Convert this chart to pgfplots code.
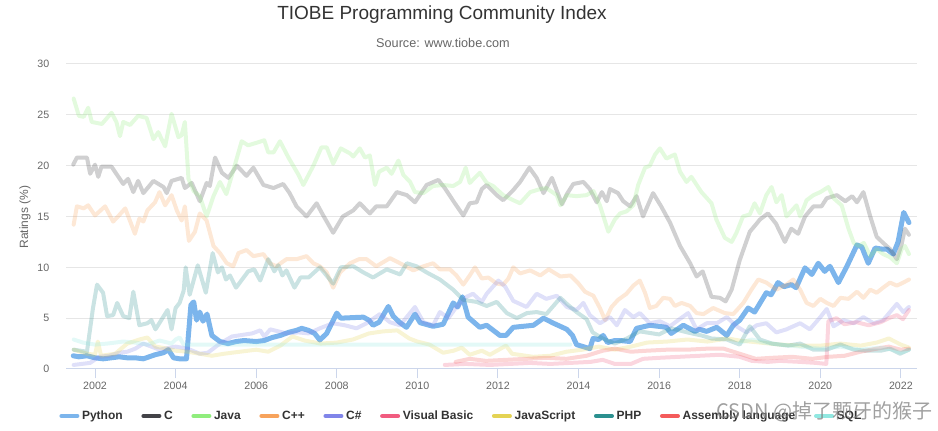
\documentclass[border=0pt]{standalone}
\usepackage{fontspec}
\setmainfont{Liberation Sans}
\newfontfamily\cjk{Noto Sans CJK SC}
\usepackage{pgfplots}
\pgfplotsset{compat=1.18}
\definecolor{cpy}{HTML}{7CB5EC}
\definecolor{cc}{HTML}{434348}
\definecolor{cjava}{HTML}{90ED7D}
\definecolor{ccpp}{HTML}{F7A35C}
\definecolor{ccs}{HTML}{8085E9}
\definecolor{cvb}{HTML}{F15C80}
\definecolor{cjs}{HTML}{E4D354}
\definecolor{cphp}{HTML}{2B908F}
\definecolor{casm}{HTML}{F45B5B}
\definecolor{csql}{HTML}{91E8E1}
\definecolor{gridc}{HTML}{E6E6E6}
\definecolor{axisc}{HTML}{CCD6EB}
\definecolor{t333}{HTML}{333333}
\definecolor{t666}{HTML}{666666}
\begin{document}
\begin{tikzpicture}
\path[use as bounding box] (0pt,0pt) rectangle (703.5pt,323.25pt);
\node[text=t333, font=\fontsize{14.25}{16}\selectfont] at (331.5pt,312pt) {TIOBE Programming Community Index};
\node[text=t666, font=\fontsize{9.5}{11}\selectfont] at (332.25pt,291pt) {Source: www.tiobe.com};
\node[text=t666, rotate=90, font=\fontsize{9}{11}\selectfont] at (18.75pt,160.5pt) {Ratings (\%)};
\begin{axis}[
  at={(49.5pt,46.5pt)}, anchor=south west, scale only axis,
  width=638.25pt, height=228.75pt,
  xmin=2001.28, xmax=2022.4, ymin=0, ymax=30,
  axis x line*=bottom, axis y line*=left,
  y axis line style={draw=none},
  x axis line style={draw=axisc, line width=0.75pt, -},
  xtick={2002,2004,...,2022}, ytick={0,5,...,30},
  /pgf/number format/1000 sep={},
  /pgf/number format/assume math mode=true,
  ymajorgrids, grid style={draw=gridc, line width=0.75pt},
  xtick style={draw=axisc, line width=0.75pt},
  ytick style={draw=none},
  xtick align=outside, ytick align=inside,
  major tick length=7pt,
  ticklabel style={text=t666, font=\fontsize{8}{10}\selectfont},
  yticklabel style={xshift=-9pt},
  xticklabel style={yshift=1pt},
  every axis plot/.append style={no marks, line join=round, line cap=round},
  faded/.style={line width=3pt, draw opacity=0.25, forget plot},
  legend image code/.code={\draw[#1, line width=3pt] (0pt,0pt) -- (12pt,0pt);},
  legend columns=-1,
  legend style={at={(0.465,-0.154)}, anchor=center, draw=none, fill=none,
    font=\bfseries\fontsize{9}{11}\selectfont, text=t333,
    /tikz/every even column/.append style={column sep=12pt}},
]
\addlegendimage{cpy}\addlegendentry{Python}
\addlegendimage{cc}\addlegendentry{C}
\addlegendimage{cjava}\addlegendentry{Java}
\addlegendimage{ccpp}\addlegendentry{C++}
\addlegendimage{ccs}\addlegendentry{C\#}
\addlegendimage{cvb}\addlegendentry{Visual Basic}
\addlegendimage{cjs}\addlegendentry{JavaScript}
\addlegendimage{cphp}\addlegendentry{PHP}
\addlegendimage{casm}\addlegendentry{Assembly language}
\addlegendimage{csql}\addlegendentry{SQL}
% Python
\addplot[cpy, line width=3.75pt, forget plot] coordinates {
(2001.46,1.3) (2001.6,1.2) (2001.8,1.3) (2002.0,1.1) (2002.2,1.0) (2002.4,1.1) (2002.6,1.2) (2002.8,1.1) (2003.0,1.1) (2003.2,1.0) (2003.49,1.4) (2003.7,1.6) (2003.82,1.9) (2003.95,1.1) (2004.1,1.0) (2004.27,1.0) (2004.38,6.3) (2004.45,6.6) (2004.52,4.8) (2004.6,5.6) (2004.68,4.7) (2004.78,5.4) (2004.9,3.3) (2005.1,2.7) (2005.3,2.5) (2005.5,2.7) (2005.7,2.8) (2006.0,2.7) (2006.2,2.8) (2006.4,3.1) (2006.6,3.3) (2006.8,3.6) (2007.0,3.8) (2007.13,4.0) (2007.3,3.8) (2007.45,3.5) (2007.58,2.85) (2007.75,3.5) (2008.0,5.5) (2008.1,5.0) (2008.66,5.1) (2008.8,4.8) (2008.9,4.3) (2009.05,4.6) (2009.28,6.15) (2009.4,5.2) (2009.57,4.55) (2009.73,4.1) (2009.94,5.4) (2010.07,4.55) (2010.39,4.2) (2010.64,4.4) (2010.89,6.5) (2011.0,6.1) (2011.12,7.1) (2011.26,5.1) (2011.55,4.1) (2011.72,4.3) (2012.05,3.3) (2012.2,3.3) (2012.38,4.1) (2012.88,4.3) (2013.13,5.0) (2013.38,4.5) (2013.71,3.9) (2013.85,3.3) (2013.95,2.4) (2014.28,2.0) (2014.36,3.0) (2014.5,2.9) (2014.61,3.3) (2014.72,2.6) (2014.9,2.8) (2015.03,2.8) (2015.28,2.7) (2015.44,4.0) (2015.77,4.3) (2015.98,4.2) (2016.18,4.1) (2016.3,3.5) (2016.6,4.3) (2016.89,3.7) (2017.0,3.9) (2017.18,3.7) (2017.43,4.1) (2017.68,3.3) (2017.84,4.3) (2018.0,4.8) (2018.21,6.0) (2018.37,5.6) (2018.66,7.5) (2018.78,7.3) (2018.95,8.5) (2019.1,8.1) (2019.28,8.3) (2019.4,8.0) (2019.62,9.95) (2019.79,9.3) (2019.95,10.4) (2020.11,9.6) (2020.24,10.1) (2020.32,9.5) (2020.45,8.5) (2020.66,10.1) (2020.91,12.2) (2021.03,12.0) (2021.19,10.4) (2021.36,11.9) (2021.52,11.8) (2021.65,11.8) (2021.81,11.3) (2021.93,12.5) (2022.07,15.4) (2022.2,14.4)
};
% C
\addplot[cc, faded] coordinates {
(2001.46,20.1) (2001.55,20.8) (2001.8,20.8) (2001.88,19.2) (2002.0,20.1) (2002.08,18.9) (2002.16,19.9) (2002.41,19.9) (2002.7,18.2) (2002.82,18.7) (2002.95,17.4) (2003.07,18.5) (2003.2,17.3) (2003.45,18.5) (2003.7,17.9) (2003.78,17.3) (2003.9,18.5) (2004.15,18.8) (2004.23,17.8) (2004.4,18.3) (2004.6,16.5) (2004.77,18.3) (2004.85,18.0) (2004.98,20.8) (2005.15,19.3) (2005.31,18.8) (2005.52,20.0) (2005.76,19.0) (2005.93,19.8) (2006.18,18.1) (2006.43,17.8) (2006.67,18.2) (2006.83,17.3) (2007.0,16.0) (2007.25,15.0) (2007.5,16.3) (2007.65,15.2) (2007.91,13.4) (2008.15,15.0) (2008.41,15.6) (2008.57,16.3) (2008.82,15.3) (2008.98,16.0) (2009.24,16.0) (2009.49,17.4) (2009.74,17.1) (2009.94,16.4) (2010.23,18.1) (2010.52,18.6) (2010.68,17.8) (2010.93,16.3) (2011.14,15.1) (2011.3,16.3) (2011.47,16.4) (2011.6,17.7) (2011.72,18.1) (2011.97,17.1) (2012.13,16.6) (2012.38,17.6) (2012.55,18.4) (2012.78,19.8) (2012.96,18.8) (2013.13,17.3) (2013.34,18.8) (2013.59,16.2) (2013.71,17.2) (2013.87,18.2) (2014.12,18.4) (2014.28,17.7) (2014.45,16.4) (2014.58,17.4) (2014.7,16.5) (2014.78,17.7) (2014.98,17.3) (2015.11,16.5) (2015.28,16.0) (2015.44,17.0) (2015.6,15.0) (2015.85,17.3) (2016.05,16.0) (2016.27,14.4) (2016.52,12.1) (2016.77,10.4) (2016.93,9.1) (2017.08,9.6) (2017.3,7.1) (2017.51,7.0) (2017.65,6.65) (2017.8,7.8) (2018.0,10.7) (2018.25,13.5) (2018.42,14.3) (2018.5,14.7) (2018.7,15.3) (2018.9,14.3) (2019.12,12.5) (2019.28,13.8) (2019.45,13.3) (2019.62,15.0) (2019.83,16.0) (2020.03,16.0) (2020.16,16.8) (2020.41,17.1) (2020.62,16.5) (2020.79,17.0) (2020.91,16.4) (2021.07,17.4) (2021.24,15.0) (2021.4,13.0) (2021.56,12.4) (2021.73,11.8) (2021.9,10.8) (2022.02,12.3) (2022.1,13.8) (2022.2,13.2)
};
% Java
\addplot[cjava, faded] coordinates {
(2001.47,26.6) (2001.6,24.9) (2001.72,24.8) (2001.83,25.7) (2001.92,24.3) (2002.17,24.1) (2002.41,25.2) (2002.53,24.3) (2002.62,22.9) (2002.7,24.3) (2002.87,24.0) (2003.07,24.9) (2003.28,24.7) (2003.45,22.6) (2003.57,23.3) (2003.74,21.9) (2003.9,25.1) (2004.07,22.8) (2004.15,23.0) (2004.23,24.3) (2004.32,18.7) (2004.45,17.5) (2004.6,17.0) (2004.77,15.0) (2004.94,17.0) (2005.1,18.4) (2005.26,17.2) (2005.43,19.5) (2005.64,22.4) (2005.8,22.0) (2006.05,22.3) (2006.2,22.5) (2006.3,21.3) (2006.43,21.3) (2006.59,22.4) (2006.8,20.8) (2007.05,19.1) (2007.17,18.1) (2007.42,20.0) (2007.62,21.8) (2007.75,21.8) (2007.91,20.2) (2008.1,21.7) (2008.33,21.2) (2008.41,20.9) (2008.57,21.7) (2008.7,20.8) (2008.82,21.0) (2008.95,18.1) (2009.05,19.4) (2009.24,19.8) (2009.36,19.2) (2009.53,20.5) (2009.65,19.1) (2009.82,18.4) (2009.94,17.4) (2010.15,17.3) (2010.39,18.0) (2010.64,18.1) (2010.89,18.0) (2011.06,18.4) (2011.2,19.8) (2011.3,18.3) (2011.55,19.3) (2011.72,18.3) (2011.88,18.0) (2012.13,17.1) (2012.38,16.6) (2012.55,16.3) (2012.8,17.4) (2013.05,17.7) (2013.2,17.8) (2013.46,17.1) (2013.55,16.1) (2013.71,17.1) (2013.95,17.0) (2014.2,17.1) (2014.37,17.5) (2014.53,16.1) (2014.74,13.5) (2014.9,14.7) (2015.03,15.3) (2015.19,15.5) (2015.36,16.1) (2015.48,18.1) (2015.65,19.8) (2015.77,20.0) (2015.9,21.1) (2016.02,21.7) (2016.18,20.7) (2016.39,21.1) (2016.52,19.4) (2016.68,18.4) (2016.8,18.9) (2017.05,17.4) (2017.3,16.3) (2017.42,14.7) (2017.63,12.9) (2017.8,12.5) (2017.92,13.4) (2018.08,15.0) (2018.25,15.2) (2018.37,16.3) (2018.5,15.3) (2018.66,17.1) (2018.79,17.9) (2018.91,16.4) (2019.04,17.1) (2019.16,15.0) (2019.41,16.1) (2019.5,15.0) (2019.66,16.6) (2019.83,17.1) (2020.0,17.4) (2020.2,17.9) (2020.33,16.8) (2020.53,16.1) (2020.7,13.8) (2020.83,12.4) (2020.95,12.1) (2021.08,12.4) (2021.24,11.1) (2021.4,11.8) (2021.56,11.3) (2021.73,11.0) (2021.9,10.4) (2022.02,11.8) (2022.1,12.1) (2022.2,11.3)
};
% C++
\addplot[ccpp, faded] coordinates {
(2001.47,14.2) (2001.55,16.0) (2001.72,15.8) (2001.83,16.1) (2002.0,15.1) (2002.25,16.0) (2002.45,14.5) (2002.57,15.0) (2002.75,15.8) (2002.99,13.3) (2003.1,14.8) (2003.2,14.5) (2003.3,15.6) (2003.49,16.4) (2003.6,17.4) (2003.74,16.1) (2003.9,17.1) (2004.03,15.6) (2004.15,14.6) (2004.23,16.0) (2004.33,12.6) (2004.48,13.5) (2004.6,15.3) (2004.77,14.6) (2004.94,12.1) (2005.1,11.4) (2005.27,10.4) (2005.43,10.1) (2005.56,11.4) (2005.76,11.7) (2005.93,11.1) (2006.18,11.3) (2006.34,10.4) (2006.5,10.1) (2006.75,10.8) (2007.0,10.8) (2007.25,11.1) (2007.42,10.4) (2007.58,10.1) (2007.75,9.5) (2007.91,8.0) (2008.08,9.5) (2008.33,10.4) (2008.55,10.8) (2008.74,10.8) (2008.98,10.1) (2009.32,10.9) (2009.57,10.4) (2009.9,9.7) (2010.15,10.1) (2010.39,10.4) (2010.56,9.8) (2010.81,9.8) (2010.97,9.2) (2011.14,8.3) (2011.3,9.2) (2011.43,10.0) (2011.6,8.9) (2011.76,9.0) (2011.97,8.4) (2012.13,8.3) (2012.26,8.9) (2012.38,10.0) (2012.55,9.4) (2012.8,9.7) (2013.05,9.2) (2013.26,9.8) (2013.55,9.1) (2013.8,9.2) (2014.0,8.4) (2014.16,7.6) (2014.37,7.2) (2014.53,6.0) (2014.66,4.8) (2014.82,6.1) (2014.98,6.8) (2015.19,7.4) (2015.36,8.2) (2015.52,8.7) (2015.65,7.5) (2015.77,6.0) (2015.93,6.2) (2016.1,7.0) (2016.27,6.9) (2016.39,6.2) (2016.56,6.5) (2016.77,6.2) (2016.93,5.5) (2017.1,5.4) (2017.34,6.0) (2017.63,5.5) (2017.84,5.4) (2018.09,6.5) (2018.29,7.8) (2018.46,8.8) (2018.66,8.5) (2018.91,7.8) (2019.16,8.3) (2019.33,8.8) (2019.5,7.8) (2019.66,6.5) (2019.83,6.2) (2020.0,6.9) (2020.16,6.5) (2020.33,6.2) (2020.5,7.0) (2020.7,6.9) (2020.91,7.6) (2021.07,7.0) (2021.24,7.8) (2021.4,7.5) (2021.56,8.0) (2021.73,8.5) (2021.9,8.2) (2022.06,8.5) (2022.2,8.8)
};
% C#
\addplot[ccs, faded] coordinates {
(2001.47,0.4) (2001.88,0.6) (2002.1,1.2) (2002.35,1.3) (2002.6,1.6) (2002.8,1.7) (2003.0,2.0) (2003.2,2.5) (2003.4,2.2) (2003.6,1.9) (2004.0,2.2) (2004.3,2.0) (2004.6,1.5) (2004.8,1.6) (2005.1,2.5) (2005.4,3.2) (2005.9,3.5) (2006.1,3.8) (2006.2,3.2) (2006.35,3.9) (2006.75,3.5) (2007.05,3.6) (2007.3,3.5) (2007.58,4.0) (2007.9,4.5) (2008.2,4.3) (2008.49,4.0) (2008.74,4.5) (2009.07,5.4) (2009.32,4.6) (2009.57,4.3) (2009.94,6.1) (2010.15,4.6) (2010.39,4.3) (2010.56,5.6) (2010.77,5.0) (2010.97,6.1) (2011.22,7.1) (2011.38,7.4) (2011.6,6.6) (2011.72,7.4) (2012.01,8.7) (2012.18,8.1) (2012.38,6.7) (2012.71,6.1) (2012.96,7.4) (2013.2,6.9) (2013.46,7.2) (2013.71,6.1) (2013.95,5.8) (2014.12,6.5) (2014.28,5.3) (2014.53,4.5) (2014.78,5.1) (2014.95,4.3) (2015.15,5.8) (2015.36,5.1) (2015.52,5.5) (2015.77,4.5) (2016.02,4.7) (2016.27,4.2) (2016.47,4.8) (2016.72,5.5) (2016.93,3.9) (2017.18,4.5) (2017.43,4.5) (2017.68,5.1) (2017.92,4.2) (2018.17,3.6) (2018.42,4.3) (2018.66,4.5) (2018.91,3.6) (2019.16,3.9) (2019.5,4.5) (2019.74,3.9) (2020.0,5.1) (2020.16,5.9) (2020.33,4.2) (2020.58,4.8) (2020.83,4.5) (2021.07,5.1) (2021.32,4.5) (2021.56,4.8) (2021.73,5.6) (2021.9,6.4) (2022.06,5.6) (2022.2,6.1)
};
% Visual Basic
\addplot[cvb, faded] coordinates {
(2010.68,0.4) (2011.2,0.5) (2011.8,0.4) (2012.3,0.5) (2012.8,0.6) (2013.3,0.5) (2013.8,0.6) (2014.3,0.7) (2014.6,0.9) (2014.9,0.5) (2015.3,0.5) (2015.6,1.0) (2016.0,1.1) (2016.5,1.2) (2017.0,1.3) (2017.5,1.4) (2018.0,1.2) (2018.3,0.8) (2018.7,0.7) (2019.0,0.8) (2019.5,0.7) (2019.9,0.6) (2020.15,0.5) (2020.2,4.7) (2020.4,5.0) (2020.6,4.4) (2020.9,4.6) (2021.2,4.3) (2021.5,4.6) (2021.7,5.0) (2021.9,5.3) (2022.05,4.9) (2022.2,5.8)
};
% JavaScript
\addplot[cjs, faded] coordinates {
(2001.47,1.9) (2001.8,1.5) (2002.0,1.4) (2002.07,2.7) (2002.15,1.3) (2002.5,1.5) (2002.8,2.5) (2003.1,2.9) (2003.3,3.1) (2003.5,2.2) (2003.8,2.0) (2004.0,1.8) (2004.3,1.7) (2004.6,1.5) (2004.9,1.3) (2005.2,1.5) (2005.6,1.7) (2006.0,1.9) (2006.3,1.7) (2006.6,2.3) (2006.9,3.2) (2007.2,2.8) (2007.6,2.5) (2008.0,2.6) (2008.4,2.9) (2008.8,3.5) (2009.15,3.7) (2009.5,3.8) (2009.8,3.0) (2010.0,2.7) (2010.3,2.4) (2010.64,1.6) (2010.9,1.8) (2011.1,2.1) (2011.3,1.4) (2011.6,1.8) (2011.8,1.4) (2012.2,2.3) (2012.35,1.5) (2012.87,1.2) (2013.3,1.3) (2013.7,1.7) (2014.1,1.9) (2014.5,2.2) (2014.9,1.9) (2015.3,2.2) (2015.7,2.6) (2016.2,2.7) (2016.7,2.9) (2017.2,2.7) (2017.7,3.0) (2018.0,2.8) (2018.5,2.6) (2019.0,2.4) (2019.5,2.3) (2020.0,2.3) (2020.5,2.5) (2021.0,2.3) (2021.4,2.6) (2021.7,3.0) (2022.0,2.4) (2022.2,2.1)
};
% PHP
\addplot[cphp, faded] coordinates {
(2001.47,1.9) (2001.8,1.7) (2001.95,6.0) (2002.05,8.3) (2002.2,7.5) (2002.3,5.2) (2002.45,5.3) (2002.55,6.5) (2002.7,5.2) (2002.85,5.0) (2002.95,7.6) (2003.1,4.3) (2003.3,4.5) (2003.4,4.8) (2003.5,3.9) (2003.8,5.8) (2003.9,3.9) (2004.0,6.0) (2004.1,6.5) (2004.2,7.7) (2004.25,10.0) (2004.35,7.3) (2004.55,10.2) (2004.75,7.5) (2004.92,11.4) (2005.05,9.5) (2005.15,10.0) (2005.25,8.8) (2005.35,9.2) (2005.5,8.0) (2005.8,9.6) (2005.95,9.8) (2006.1,8.7) (2006.3,10.8) (2006.45,9.6) (2006.55,10.2) (2006.65,9.2) (2006.75,9.7) (2006.95,8.0) (2007.1,9.0) (2007.3,9.0) (2007.58,10.0) (2007.91,8.4) (2008.1,10.0) (2008.41,10.1) (2008.66,9.5) (2008.9,9.0) (2009.24,9.8) (2009.57,9.3) (2009.74,10.4) (2009.98,10.1) (2010.23,9.5) (2010.56,8.8) (2010.89,7.8) (2011.14,6.8) (2011.47,6.6) (2011.72,6.2) (2011.97,6.6) (2012.22,5.5) (2012.47,5.0) (2012.72,5.5) (2012.96,5.6) (2013.2,5.4) (2013.55,7.0) (2013.71,6.4) (2013.95,5.6) (2014.2,4.9) (2014.35,3.6) (2014.6,3.0) (2014.9,2.5) (2015.2,3.0) (2015.52,3.7) (2016.0,3.4) (2016.3,4.0) (2016.7,3.6) (2017.05,3.3) (2017.3,3.0) (2017.68,2.9) (2018.0,2.4) (2018.25,4.2) (2018.5,2.9) (2018.8,2.5) (2019.2,2.3) (2019.5,2.5) (2019.83,1.9) (2020.16,1.9) (2020.5,2.4) (2020.83,1.9) (2021.15,1.8) (2021.5,1.8) (2021.73,2.0) (2021.98,1.5) (2022.2,1.9)
};
% Assembly language
\addplot[casm, faded] coordinates {
(2010.95,0.7) (2011.3,1.0) (2011.7,0.8) (2012.2,0.9) (2012.7,1.0) (2013.2,1.1) (2013.7,1.0) (2014.2,1.3) (2014.6,1.8) (2014.9,2.0) (2015.3,1.7) (2015.7,1.8) (2016.2,1.9) (2016.7,1.9) (2017.2,2.0) (2017.6,2.0) (2018.0,1.5) (2018.4,1.0) (2018.8,1.1) (2019.3,1.2) (2019.8,1.0) (2020.2,1.2) (2020.6,1.3) (2021.0,1.7) (2021.4,2.0) (2021.7,2.2) (2022.0,1.9) (2022.2,2.0)
};
% SQL
\addplot[csql, faded] coordinates {
(2001.47,2.9) (2001.7,2.6) (2002.0,2.4) (2002.3,2.5) (2002.7,2.7) (2003.0,2.6) (2003.3,2.4) (2003.6,2.8) (2003.9,2.5) (2004.0,2.9) (2004.1,3.1) (2004.2,2.4) (2013.8,2.4)
};
\addplot[csql, faded] coordinates {
(2018.0,2.6) (2018.3,2.9) (2018.6,2.6) (2019.0,2.4) (2019.5,2.2) (2020.0,2.0) (2020.5,2.2) (2021.0,1.9) (2021.5,2.1) (2021.8,1.9) (2022.0,1.6) (2022.2,1.9)
};
\end{axis}
\node[anchor=west, text=gray, opacity=0.75, font=\cjk\fontsize{15}{17}\selectfont] at (534pt,14.25pt) {CSDN @掉了颗牙的猴子};
\end{tikzpicture}
\end{document}
